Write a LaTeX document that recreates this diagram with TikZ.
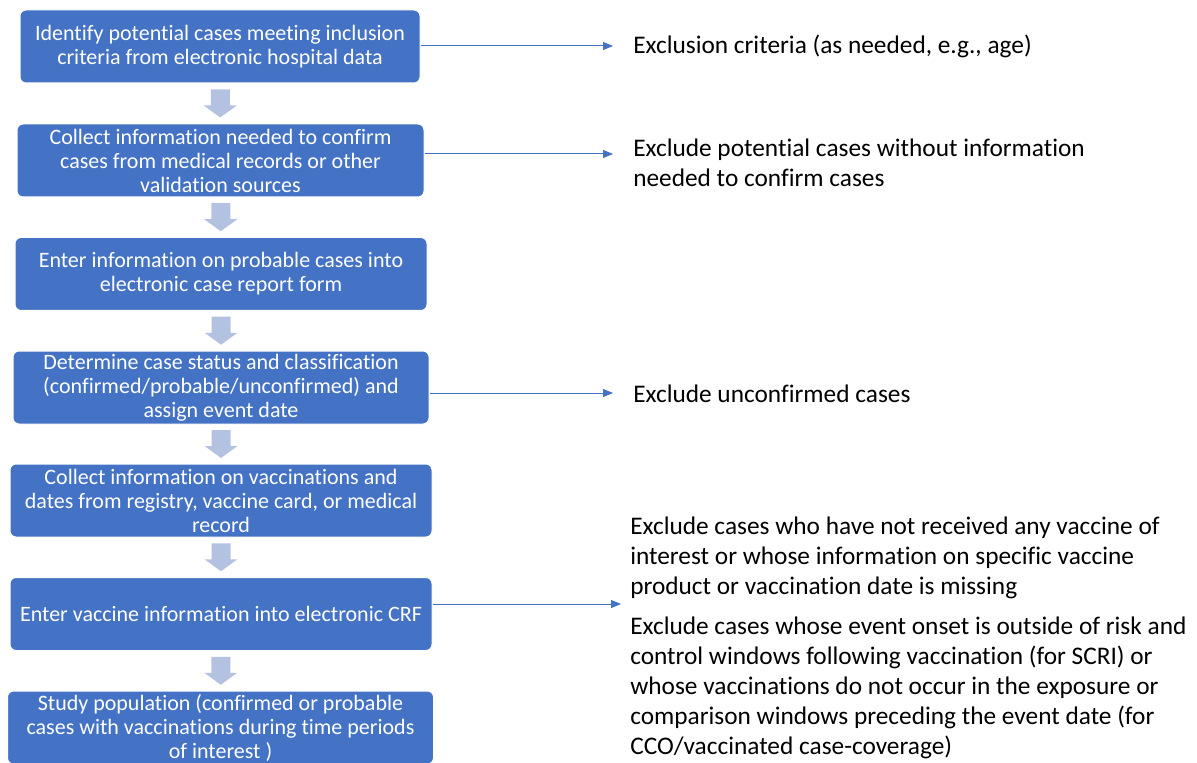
\documentclass[tikz,border=0pt]{standalone}
\usepackage{fontspec}
\setmainfont[Ligatures=CommonOff]{Carlito}
\usetikzlibrary{arrows.meta,calc}
\definecolor{boxblue}{RGB}{68,114,196}
\definecolor{arrowgray}{RGB}{180,194,226}
\tikzset{
  stepbox/.style={fill=boxblue,draw=white,line width=0.75pt,rounded corners=4.5pt,
    text=white,align=center,minimum height=54.75pt,inner sep=0pt,
    font=\fontsize{16.5}{18}\selectfont},
  exclnote/.style={anchor=west,align=left,inner sep=0pt,
    font=\fontsize{19}{22.5}\selectfont},
  exarrow/.style={draw=boxblue,line width=0.75pt,-{Triangle[length=7.5pt,width=6pt]}},
  downarr/.pic={\fill[arrowgray] (-9.5,-14) -- (9.5,-14) -- (9.5,2) -- (16.5,2)
    -- (0,14) -- (-16.5,2) -- (-9.5,2) -- cycle;}
}
\begin{document}
\begin{tikzpicture}[x=0.75pt,y=-0.75pt]
\useasboundingbox (0,0) rectangle (1197,763);
\clip (0,0) rectangle (1197,763);
% steps
\node[stepbox,minimum width=300pt] (b1) at (220,46.5)
  {Identify potential cases meeting inclusion\\criteria from electronic hospital data};
\node[stepbox,minimum width=305.25pt] (b2) at (220.5,160.5)
  {Collect information needed to confirm\\cases from medical records or other\\validation sources};
\node[stepbox,minimum width=309pt] (b3) at (221,274)
  {Enter information on probable cases into\\electronic case report form};
\node[stepbox,minimum width=312pt] (b4) at (221,387.5)
  {Determine case status and classification\\(confirmed/probable/unconfirmed) and\\assign event date};
\node[stepbox,minimum width=316.5pt] (b5) at (221,500.5)
  {Collect information on vaccinations and\\dates from registry, vaccine card, or medical\\record};
\node[stepbox,minimum width=316.5pt] (b6) at (221,614)
  {Enter vaccine information into electronic CRF};
\node[stepbox,minimum width=319.5pt] (b7) at (220.5,727.5)
  {Study population (confirmed or probable\\cases with vaccinations during time periods\\of interest )};
\foreach \a/\b in {b1/b2,b2/b3,b3/b4,b4/b5,b5/b6,b6/b7}
  \pic at ($(\a.south)!0.5!(\b.north)$) {downarr};
% exclusions
\node[exclnote] (e1) at (633,46) {Exclusion criteria (as needed, e.g., age)};
\node[exclnote] (e2) at (633,163) {Exclude potential cases without information\\needed to confirm cases};
\node[exclnote] (e4) at (633,394) {Exclude unconfirmed cases};
\node[exclnote] (e6a) at (630,558) {Exclude cases who have not received any vaccine of\\interest or whose information on specific vaccine\\product or vaccination date is missing};
\node[exclnote] (e6b) at (630,688) {Exclude cases whose event onset is outside of risk and\\control windows following vaccination (for SCRI) or\\whose vaccinations do not occur in the exposure or\\comparison windows preceding the event date (for\\CCO/vaccinated case-coverage)};
\coordinate (t1) at (613,46);
\coordinate (t2) at (613,154);
\coordinate (t4) at (613,393);
\coordinate (t6) at (621,604);
\foreach \b/\t in {b1/t1,b2/t2,b4/t4,b6/t6}
  \draw[exarrow] (\t -| \b.east) -- (\t);
\end{tikzpicture}
\end{document}
